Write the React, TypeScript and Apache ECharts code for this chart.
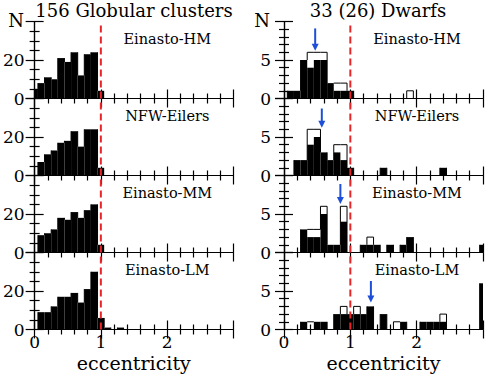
import React, { useEffect, useRef } from "react";
import * as echarts from "echarts";

// ---- data ----
const X_MIN = 0;
const X_MAX = 3;
const BIN = 0.1;
const xTickInterval = 1;
const gcYMax = 40;
const gcYInterval = 20;
const dwYMax = 10;
const dwYInterval = 5;

const columnTitles = ["156 Globular clusters", "33 (26) Dwarfs"];
const panelNames = ["Einasto-HM", "NFW-Eilers", "Einasto-MM", "Einasto-LM"];
const xAxisTitle = "eccentricity";
const yAxisTitle = "N";

// globular clusters, counts per 0.1 bin starting at e = 0.0
const gcHM = [5, 8, 11, 10, 21, 19, 24, 12, 23, 24, 4];
const gcNFW = [0, 7, 11, 13, 17, 18, 23, 15, 24, 24, 4];
const gcMM = [0, 9, 10, 12, 18, 17, 21, 18, 22, 25, 4];
const gcLM = [0, 9, 9, 12, 17, 17, 19, 14, 21, 30, 6, 1, 0, 1];

// dwarfs, counts per 0.1 bin starting at e = 0.0 (31 bins, 0.0 .. 3.0)
// black = 26 dwarfs, total = all 33 (open outline)
const dwHMBlack = [0, 1, 1, 5, 4, 5, 5, 2, 1, 1, 1, 0, 0, 0, 0, 0, 0, 0, 0, 0, 0, 0, 0, 0, 0, 0, 0, 0, 0, 0, 0];
const dwHMTotal = [0, 1, 1, 5, 6, 6, 6, 2, 2, 2, 1, 0, 0, 0, 0, 0, 0, 0, 0, 1, 0, 0, 0, 0, 0, 0, 0, 0, 0, 0, 0];
const dwNFWBlack = [0, 0, 2, 2, 4, 5, 3, 2, 3, 2, 1, 0, 0, 0, 0, 1, 0, 0, 0, 0, 0, 0, 0, 0, 1, 0, 0, 0, 0, 0, 0];
const dwNFWTotal = [0, 0, 2, 2, 6, 6, 3, 2, 4, 4, 1, 0, 0, 0, 0, 1, 0, 0, 0, 0, 0, 0, 0, 0, 1, 0, 0, 0, 0, 0, 0];
const dwMMBlack = [0, 0, 0, 3, 2, 2, 5, 1, 1, 4, 0, 0, 1, 1, 1, 0, 1, 0, 1, 2, 0, 0, 0, 0, 0, 0, 0, 0, 0, 0, 1];
const dwMMTotal = [0, 0, 0, 3, 3, 3, 6, 1, 1, 6, 0, 0, 1, 2, 1, 0, 1, 0, 1, 2, 0, 0, 0, 0, 0, 0, 0, 0, 0, 0, 1];
const dwLMBlack = [0, 0, 0, 1, 0, 1, 1, 0, 2, 2, 2, 2, 2, 3, 0, 2, 0, 0, 1, 0, 0, 1, 1, 1, 1, 0, 0, 0, 0, 0, 6];
const dwLMTotal = [0, 0, 0, 1, 1, 1, 1, 0, 2, 3, 2, 3, 2, 3, 0, 2, 0, 1, 1, 0, 0, 1, 1, 1, 2, 0, 0, 0, 0, 0, 6];

// blue arrows (dwarf panels): position, top of shaft, tip
const arrowX = [0.47, 0.57, 0.85, 1.31];
const arrowTop = [9.1, 8.7, 8.9, 6.3];
const arrowTip = [6.2, 6.2, 6.3, 3.5];

const escapeLine = 1; // e = 1

// ---- layout / style ----
const W = 485;
const H = 374;
const colLeft = [34.3, 284];
const colWidth = 199;
const rowTop = [21.5, 98.5, 175.5, 252.5];
const rowHeight = 77;
const FAMILY = "DejaVu Serif";
const RED = "#e8262a";
const BLUE = "#1d4fd8";

function histRender(params: any, api: any) {
  const xc = api.value(0);
  const black = api.value(1);
  const total = api.value(2);
  const prev = api.value(3);
  const x0v = Math.max(X_MIN, xc - BIN / 2);
  const x1v = Math.min(X_MAX, xc + BIN / 2);
  const p0 = api.coord([x0v, 0]);
  const p1 = api.coord([x1v, 0]);
  const children: any[] = [];
  if (black > 0) {
    const pyb = api.coord([x0v, black])[1];
    children.push({
      type: "rect",
      shape: { x: p0[0], y: pyb, width: p1[0] - p0[0], height: p0[1] - pyb },
      style: { fill: "#000" },
    });
  }
  if (total > black) {
    const pyt = api.coord([x0v, total])[1];
    children.push({
      type: "line",
      shape: { x1: p0[0], y1: pyt, x2: p1[0], y2: pyt },
      style: { stroke: "#000", lineWidth: 1 },
    });
  }
  if (prev !== total) {
    const ya = api.coord([x0v, prev])[1];
    const yb = api.coord([x0v, total])[1];
    children.push({
      type: "line",
      shape: { x1: p0[0], y1: ya, x2: p0[0], y2: yb },
      style: { stroke: "#000", lineWidth: 1 },
    });
  }
  return { type: "group", children };
}

function arrowRender(params: any, api: any) {
  const x = api.value(0);
  const top = api.value(1);
  const tip = api.value(2);
  const pt = api.coord([x, top]);
  const pyTip = api.coord([x, tip])[1];
  const head = 7;
  const hw = 3.5;
  return {
    type: "group",
    children: [
      {
        type: "line",
        shape: { x1: pt[0], y1: pt[1], x2: pt[0], y2: pyTip - head + 1 },
        style: { stroke: BLUE, lineWidth: 2 },
      },
      {
        type: "polygon",
        shape: {
          points: [
            [pt[0] - hw, pyTip - head],
            [pt[0] + hw, pyTip - head],
            [pt[0], pyTip],
          ],
        },
        style: { fill: BLUE },
      },
    ],
  };
}

function histData(black: number[], total: number[]) {
  return black.map((b, i) => [
    Math.round(i * BIN * 10) / 10,
    b,
    total[i],
    i > 0 ? total[i - 1] : 0,
  ]);
}

function textEl(text: string, x: number, y: number, size: number) {
  return {
    type: "text",
    x,
    y,
    style: {
      text,
      fill: "#000",
      fontFamily: FAMILY,
      fontSize: size,
      align: "center",
      verticalAlign: "middle",
      textAlign: "center",
      textVerticalAlign: "middle",
    },
  };
}

function buildOption() {
  const gcSets = [gcHM, gcNFW, gcMM, gcLM];
  const dwBlack = [dwHMBlack, dwNFWBlack, dwMMBlack, dwLMBlack];
  const dwTotal = [dwHMTotal, dwNFWTotal, dwMMTotal, dwLMTotal];

  const grid: any[] = [];
  const xAxis: any[] = [];
  const yAxis: any[] = [];
  const series: any[] = [];
  const graphic: any[] = [];

  const axisLine = { show: true, lineStyle: { color: "#000", width: 1.2 } };
  const tickStyle = { color: "#000", width: 1.2 };

  for (let c = 0; c < 2; c++) {
    for (let r = 0; r < 4; r++) {
      const g = grid.length;
      grid.push({
        left: colLeft[c],
        top: rowTop[r],
        width: colWidth,
        height: rowHeight,
        show: false,
      });
      const yMax = c === 0 ? gcYMax : dwYMax;
      const yInt = c === 0 ? gcYInterval : dwYInterval;
      const ySplit = c === 0 ? 4 : 5;
      const baseX = {
        gridIndex: g,
        type: "value",
        min: X_MIN,
        max: X_MAX,
        interval: xTickInterval,
        axisLine,
        axisTick: { show: true, inside: true, length: 9, lineStyle: tickStyle },
        minorTick: { show: true, splitNumber: 5, length: 5, lineStyle: tickStyle },
        splitLine: { show: false },
        minorSplitLine: { show: false },
      };
      xAxis.push({
        ...baseX,
        position: "bottom",
        axisLabel: {
          show: r === 3,
          showMaxLabel: false,
          color: "#000",
          fontFamily: FAMILY,
          fontSize: 17,
          margin: 4,
        },
      });
      xAxis.push({ ...baseX, position: "top", axisLabel: { show: false } });
      const baseY = {
        gridIndex: g,
        type: "value",
        min: 0,
        max: yMax,
        interval: yInt,
        axisLine,
        axisTick: { show: true, inside: true, length: 9, lineStyle: tickStyle },
        minorTick: { show: true, splitNumber: ySplit, length: 5, lineStyle: tickStyle },
        splitLine: { show: false },
        minorSplitLine: { show: false },
      };
      yAxis.push({
        ...baseY,
        position: "left",
        axisLabel: {
          show: true,
          showMaxLabel: false,
          color: "#000",
          fontFamily: FAMILY,
          fontSize: 17,
          margin: c === 0 ? 10 : 13,
        },
      });
      yAxis.push({ ...baseY, position: "right", axisLabel: { show: false } });

      const data =
        c === 0 ? histData(gcSets[r], gcSets[r]) : histData(dwBlack[r], dwTotal[r]);
      series.push({
        type: "custom",
        xAxisIndex: 2 * g,
        yAxisIndex: 2 * g,
        renderItem: histRender,
        data,
        z: 2,
        silent: true,
      });
      series.push({
        type: "line",
        xAxisIndex: 2 * g,
        yAxisIndex: 2 * g,
        data: [
          [escapeLine, 0],
          [escapeLine, yMax],
        ],
        symbol: "none",
        lineStyle: { color: RED, width: 2, type: [7, 4] },
        z: 5,
        silent: true,
      });
      if (c === 1) {
        series.push({
          type: "custom",
          xAxisIndex: 2 * g,
          yAxisIndex: 2 * g,
          renderItem: arrowRender,
          data: [[arrowX[r], arrowTop[r], arrowTip[r]]],
          z: 6,
          silent: true,
        });
      }

      graphic.push(textEl(panelNames[r], colLeft[c] + 133, rowTop[r] + 17, 14.5));
    }
    graphic.push(textEl(columnTitles[c], c === 0 ? 134 : 378, 10, 18));
    graphic.push(textEl(yAxisTitle, c === 0 ? 16 : 262, 20, 18));
    graphic.push(textEl(xAxisTitle, colLeft[c] + colWidth / 2, 363, 19));
  }

  return {
    animation: false,
    backgroundColor: "#fff",
    grid,
    xAxis,
    yAxis,
    series,
    graphic,
  };
}

export default function App() {
  const ref = useRef<HTMLDivElement>(null);
  useEffect(() => {
    if (!ref.current) return;
    const chart = echarts.init(ref.current, undefined, { renderer: "svg", width: W, height: H });
    chart.setOption(buildOption() as any);
    return () => chart.dispose();
  }, []);
  return (
    <div
      ref={ref}
      style={{ position: "absolute", left: 0, top: 0, width: W, height: H, background: "#fff" }}
    />
  );
}
